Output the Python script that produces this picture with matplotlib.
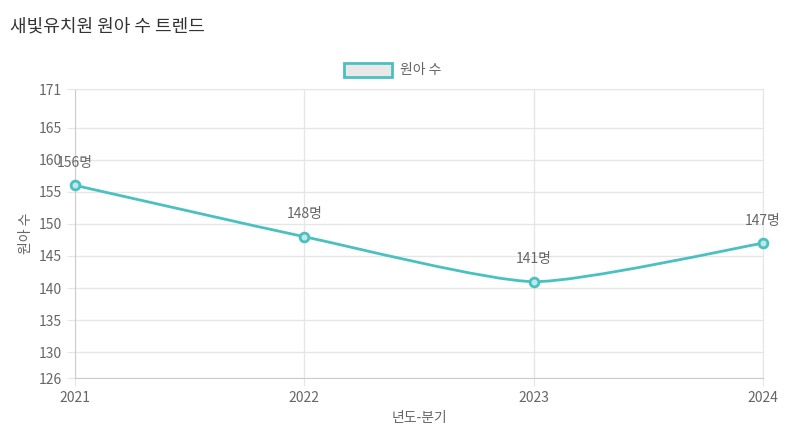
import matplotlib.pyplot as plt
from matplotlib import font_manager
from matplotlib.path import Path
from matplotlib.patches import PathPatch, Rectangle
import numpy as np

names = {f.name for f in font_manager.fontManager.ttflist}
cjk = [n for n in ['Noto Sans CJK KR', 'Noto Sans CJK JP', 'Noto Sans CJK SC', 'Noto Sans CJK TC'] if n in names]
plt.rcParams['font.family'] = 'sans-serif'
plt.rcParams['font.sans-serif'] = cjk + ['DejaVu Sans']

years = ['2021', '2022', '2023', '2024']
counts = [156, 148, 141, 147]
y_ticks = [126, 130, 135, 140, 145, 150, 155, 160, 165, 171]

teal = '#4BC0C0'
grid_c = '#e6e6e6'
text_c = '#666666'

fig = plt.figure(figsize=(8.05, 4.41), dpi=100)
ax = fig.add_axes([75 / 805, 63 / 441, 688 / 805, 289 / 441])

x = np.arange(len(years))
y = np.array(counts, dtype=float)

# gently smoothed line through the points
t = 0.2
verts = [(x[0], y[0])]
codes = [Path.MOVETO]
for i in range(len(x) - 1):
    x0, y0 = (x[i - 1], y[i - 1]) if i > 0 else (x[i], y[i])
    x3, y3 = (x[i + 2], y[i + 2]) if i + 2 < len(x) else (x[i + 1], y[i + 1])
    c1 = (x[i] + (x[i + 1] - x0) * t / 2, y[i] + (y[i + 1] - y0) * t / 2)
    c2 = (x[i + 1] - (x3 - x[i]) * t / 2, y[i + 1] - (y3 - y[i]) * t / 2)
    verts += [c1, c2, (x[i + 1], y[i + 1])]
    codes += [Path.CURVE4] * 3
ax.add_patch(PathPatch(Path(verts, codes), fill=False, edgecolor=teal, lw=2, zorder=3))
ax.scatter(x, y, s=40, edgecolor=teal, facecolor='#bfe8e8', linewidths=2, zorder=4, clip_on=False)

for xi, yi in zip(x, y):
    ax.annotate(f'{int(yi)}명', (xi, yi), xytext=(0, 11), textcoords='offset points',
                ha='center', va='bottom', fontsize=10, color=text_c)

ax.set_xlim(0, 3)
ax.set_ylim(126, 171)
ax.set_xticks(x)
ax.set_xticklabels(years)
ax.set_yticks(y_ticks)
ax.tick_params(colors=text_c, labelsize=10, length=6, color=grid_c)
ax.grid(True, color=grid_c, lw=1)
for s in ax.spines.values():
    s.set_color(grid_c)
ax.spines['left'].set_color('#cccccc')
ax.spines['bottom'].set_color('#cccccc')
ax.set_xlabel('년도-분기', color=text_c, fontsize=10)
ax.set_ylabel('원아 수', color=text_c, fontsize=10)

fig.text(10 / 805, 1 - 26 / 441, '새빛유치원 원아 수 트렌드', fontsize=13, color='#333333', va='center')
fig.patches.append(Rectangle((344 / 805, 1 - 77 / 441), 48 / 805, 14 / 441, transform=fig.transFigure,
                             facecolor='#e8e8e8', edgecolor=teal, lw=2))
fig.text(400 / 805, 1 - 70 / 441, '원아 수', fontsize=10, color=text_c, va='center')

fig.savefig('out.png', dpi=100)
